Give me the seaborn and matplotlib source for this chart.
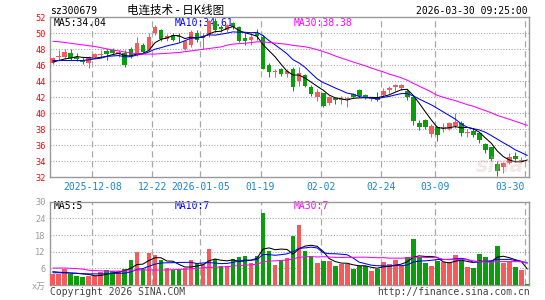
import numpy as np
import pandas as pd
import matplotlib
matplotlib.use('Agg')
import matplotlib.pyplot as plt
import seaborn as sns

code = 'sz300679'
title = '电连技术 - 日K线图'
stamp = '2026-03-30 09:25:00'

# daily candles, 2025-11-27 .. 2026-03-30 (80 trading days)
open_ = [46.3, 47.0, 47.1, 47.6, 47.1, 46.7, 46.3, 47.1, 47.3, 47.8,
         47.9, 47.4, 47.5, 48.0, 47.3, 48.5, 47.9, 50.0, 50.4, 49.3,
         49.8, 49.7, 48.0, 48.5, 50.0, 49.4, 49.8, 51.5, 50.8, 50.4,
         51.25, 50.8, 49.4, 49.2, 50.0, 49.6, 46.0, 45.15, 45.6, 44.9,
         45.5, 44.0, 44.8, 43.3, 42.1, 42.5, 41.3, 41.9, 41.7, 41.8,
         42.4, 42.9, 42.3, 41.8, 42.0, 42.3, 42.9, 43.25, 43.2, 42.8,
         42.1, 38.75, 39.2, 37.4, 38.25, 38.2, 38.0, 38.4, 38.75, 37.55,
         37.8, 37.6, 36.2, 35.75, 33.7, 33.25, 33.8, 34.7, 34.0, 34.05]
close = [46.9, 47.2, 47.7, 46.9, 46.75, 46.4, 47.0, 47.4, 47.45, 47.4,
         47.5, 47.7, 46.0, 47.2, 48.8, 47.7, 49.6, 50.8, 49.3, 49.7,
         49.2, 49.5, 49.0, 50.2, 49.2, 49.7, 51.5, 50.4, 50.5, 51.0,
         50.8, 49.0, 49.0, 49.6, 49.7, 45.6, 45.2, 45.25, 44.9, 45.3,
         43.3, 45.1, 43.4, 42.4, 42.7, 40.9, 42.0, 41.7, 41.8, 41.9,
         42.0, 42.2, 41.9, 41.95, 41.7, 42.8, 43.2, 43.5, 43.5, 42.0,
         39.0, 38.3, 38.25, 38.4, 37.3, 38.3, 38.75, 38.95, 37.6, 37.65,
         37.3, 36.7, 35.4, 34.25, 32.8, 33.8, 34.6, 34.25, 34.2, 34.0]
high = [47.0, 47.9, 48.0, 48.0, 47.5, 47.0, 47.2, 47.6, 47.9, 48.0,
        48.2, 47.9, 47.9, 48.3, 49.6, 48.8, 50.0, 51.0, 50.6, 49.9,
        50.0, 50.0, 49.1, 50.4, 50.4, 50.0, 51.7, 51.9, 51.0, 51.2,
        51.4, 50.9, 50.0, 50.0, 50.6, 49.8, 46.3, 45.6, 45.7, 45.5,
        45.8, 45.8, 44.9, 43.5, 43.0, 42.6, 42.2, 42.1, 42.2, 42.1,
        42.5, 43.1, 42.4, 42.1, 42.7, 43.2, 43.4, 43.7, 43.7, 43.1,
        42.3, 39.2, 39.3, 38.7, 38.4, 38.8, 38.9, 40.0, 39.0, 38.0,
        38.2, 37.6, 36.3, 35.8, 34.1, 33.9, 35.0, 35.2, 34.6, 34.05]
low = [46.2, 46.7, 46.8, 46.7, 46.5, 46.2, 45.7, 46.9, 46.9, 46.7,
       47.3, 47.1, 45.8, 46.9, 47.2, 47.5, 47.8, 49.8, 49.1, 49.0,
       49.0, 48.9, 47.9, 48.3, 48.9, 48.1, 49.6, 50.2, 50.2, 50.2,
       50.6, 48.9, 48.6, 48.6, 49.2, 45.5, 44.6, 44.6, 44.7, 44.6,
       42.8, 43.4, 43.3, 42.2, 41.5, 40.8, 41.0, 41.2, 41.2, 40.8,
       41.9, 42.0, 41.8, 41.6, 41.5, 42.1, 42.6, 42.8, 42.9, 41.7,
       38.5, 37.9, 38.1, 37.1, 36.5, 37.7, 37.9, 38.2, 37.2, 37.0,
       37.1, 36.3, 35.1, 34.1, 32.2, 32.6, 33.7, 33.9, 33.9, 34.0]
volume = [4.0, 4.0, 5.8, 4.0, 3.2, 2.9, 3.2, 3.2, 4.7, 5.4,
          5.0, 5.0, 5.8, 9.0, 12.0, 5.8, 11.5, 10.8, 9.0, 6.1,
          5.4, 5.8, 6.1, 9.0, 7.9, 7.6, 12.9, 9.4, 6.8, 6.8,
          9.4, 10.1, 10.4, 7.9, 10.4, 25.9, 12.2, 7.2, 9.0, 9.7,
          17.6, 21.6, 12.2, 10.4, 7.9, 8.6, 8.6, 6.8, 7.6, 7.6,
          5.8, 6.8, 6.8, 5.0, 5.8, 8.3, 7.6, 9.0, 6.8, 10.1,
          16.5, 10.1, 7.9, 6.8, 8.6, 8.3, 8.3, 10.8, 8.6, 6.5,
          6.1, 11.2, 10.1, 8.6, 14.0, 7.9, 8.6, 6.5, 5.4, 0.4]

# moving-average values before the window fills (history off the chart)
ma5_head = [46.4, 46.6, 46.8, 46.9]
ma10_head = [46.6, 46.6, 46.6, 46.6, 46.6, 46.6, 46.7, 46.8, 46.9]
ma30_head = [49.0, 48.95, 48.85, 48.75, 48.65, 48.55, 48.45, 48.35, 48.2, 48.05,
             47.9, 47.8, 47.65, 47.55, 47.45, 47.4, 47.4, 47.4, 47.45, 47.5,
             47.55, 47.6, 47.7, 47.8, 47.9, 48.0, 48.1, 48.2, 48.3]
vma5_head = [4.8, 4.6, 4.5, 4.3]
vma10_head = [4.4, 4.4, 4.4, 4.3, 4.2, 4.1, 4.0, 4.0, 4.0]
vma30_head = [6.1, 6.1, 6.1, 6.0, 5.9, 5.7, 5.3, 5.2, 5.1, 5.0,
              5.0, 5.0, 5.0, 5.2, 5.4, 5.4, 5.4, 5.4, 5.4, 5.4,
              5.5, 5.6, 5.7, 5.8, 6.0, 6.2, 6.3, 6.4, 6.5]

price_labels = ['MA5:34.04', 'MA10:34.61', 'MA30:38.38']
vol_labels = ['MA5:5', 'MA10:7', 'MA30:7']

tick_pos = [7, 17, 25, 35, 45, 55, 64, 79]
tick_labels = ['2025-12-08', '12-22', '2026-01-05', '01-19', '02-02', '02-24', '03-09', '03-30']
price_ticks = [32, 34, 36, 38, 40, 42, 44, 46, 48, 50, 52]
vol_ticks = [0, 6, 12, 18, 24, 30]
vol_tick_labels = ['x万', '6', '12', '18', '24', '30']


def moving_avg(values, n, head):
    s = pd.Series(values, dtype=float).rolling(n).mean()
    s.iloc[:n - 1] = head
    return s


sns.set_theme(style='white')
plt.rcParams['font.family'] = ['DejaVu Sans Mono', 'Noto Sans CJK SC']

RED = '#f65a5a'
GREEN = '#0a9e0a'
GRID = '#a8a8a8'
MA_COLORS = ['#000000', '#0000ff', '#ff00ff']
W = 545.0
H = 300.0

fig = plt.figure(figsize=(5.45, 3.0), dpi=100)
fig.patch.set_facecolor('white')
ax = fig.add_axes([50 / W, 1 - 177.3 / H, 479 / W, 160 / H])
axv = fig.add_axes([50 / W, 1 - 285 / H, 479 / W, 83.3 / H])

df = pd.DataFrame({'open': open_, 'close': close, 'high': high, 'low': low, 'vol': volume})
df['x'] = np.arange(len(df)) + 0.42
up = df['close'] >= df['open']
colors = np.where(up, RED, GREEN)

df['ma5'] = moving_avg(close, 5, ma5_head)
df['ma10'] = moving_avg(close, 10, ma10_head)
df['ma30'] = moving_avg(close, 30, ma30_head)
df['vma5'] = moving_avg(volume, 5, vma5_head)
df['vma10'] = moving_avg(volume, 10, vma10_head)
df['vma30'] = moving_avg(volume, 30, vma30_head)

# price panel
body = np.maximum((df['close'] - df['open']).abs(), 0.06)
ax.vlines(df['x'], df['low'], df['high'], colors=colors, lw=0.75, zorder=3)
ax.bar(df['x'], body, bottom=np.minimum(df['open'], df['close']),
       width=0.8, color=colors, lw=0, zorder=3)
for col, c in zip(['ma5', 'ma10', 'ma30'], MA_COLORS):
    sns.lineplot(data=df, x='x', y=col, color=c, lw=0.75, ax=ax, zorder=4)

# volume panel
axv.bar(df['x'], df['vol'], width=0.8, color=colors, lw=0, zorder=3)
for col, c in zip(['vma5', 'vma10', 'vma30'], MA_COLORS):
    sns.lineplot(data=df, x='x', y=col, color=c, lw=0.75, ax=axv, zorder=4)

for a in (ax, axv):
    a.set_xlim(-0.05, 79.7)
    a.set_xlabel('')
    a.set_ylabel('')
    for t in tick_pos:
        a.axvline(t, color=GRID, lw=0.9, ls=(0, (5, 3)), zorder=1)
    for s in a.spines.values():
        s.set_color('#999999')
        s.set_linewidth(1.0)
    a.tick_params(length=0, pad=3)

ax.set_ylim(32, 52)
ax.set_yticks(price_ticks)
ax.set_yticklabels([str(v) for v in price_ticks], color='#ff0000', fontsize=6.2)
for v in price_ticks[1:-1]:
    ax.axhline(v, color=GRID, lw=0.8, ls=(0, (1, 1.5)), zorder=1)
ax.set_xticks(tick_pos)
ax.set_xticklabels(tick_labels, color='#1a86d0', fontsize=7)
ax.get_xticklabels()[-1].set_ha('right')
ax.tick_params(axis='x', pad=3.5)

axv.set_ylim(0, 30)
axv.set_yticks(vol_ticks)
axv.set_yticklabels(vol_tick_labels, color='#999999', fontsize=6.2)
for v in vol_ticks[1:-1]:
    axv.axhline(v, color=GRID, lw=0.8, ls=(0, (1, 1.5)), zorder=1)
axv.set_xticks([])

for a, labels in ((ax, price_labels), (axv, vol_labels)):
    ypos = 0.965 if a is ax else 0.945
    for xf, txt, c in zip([0.008, 0.261, 0.509], labels, MA_COLORS):
        a.text(xf, ypos, txt, transform=a.transAxes, color=c, fontsize=7,
               ha='left', va='center', zorder=2)

ax.text(0.99, 0.07, 'sina', transform=ax.transAxes, ha='right', va='center',
        fontsize=15, style='italic', fontweight='bold', color='#e0b0b0',
        alpha=0.3, family='DejaVu Sans', zorder=5)

fig.text(50 / W, 1 - 11 / H, code, fontsize=7, ha='left', va='center', color='#000000')
fig.text(176 / W, 1 - 10.5 / H, title, fontsize=8.3, ha='center', va='center',
         color='#000000', family=['Noto Sans CJK SC', 'DejaVu Sans'])
fig.text(528 / W, 1 - 11 / H, stamp, fontsize=7, ha='right', va='center', color='#000000')
fig.text(50 / W, 1 - 292 / H, 'Copyright 2026 SINA.COM', fontsize=7, ha='left',
         va='center', color='#444444')
fig.text(530 / W, 1 - 292 / H, 'http://finance.sina.com.cn', fontsize=7, ha='right',
         va='center', color='#444444')

fig.savefig('out.png', dpi=100, facecolor='white')
